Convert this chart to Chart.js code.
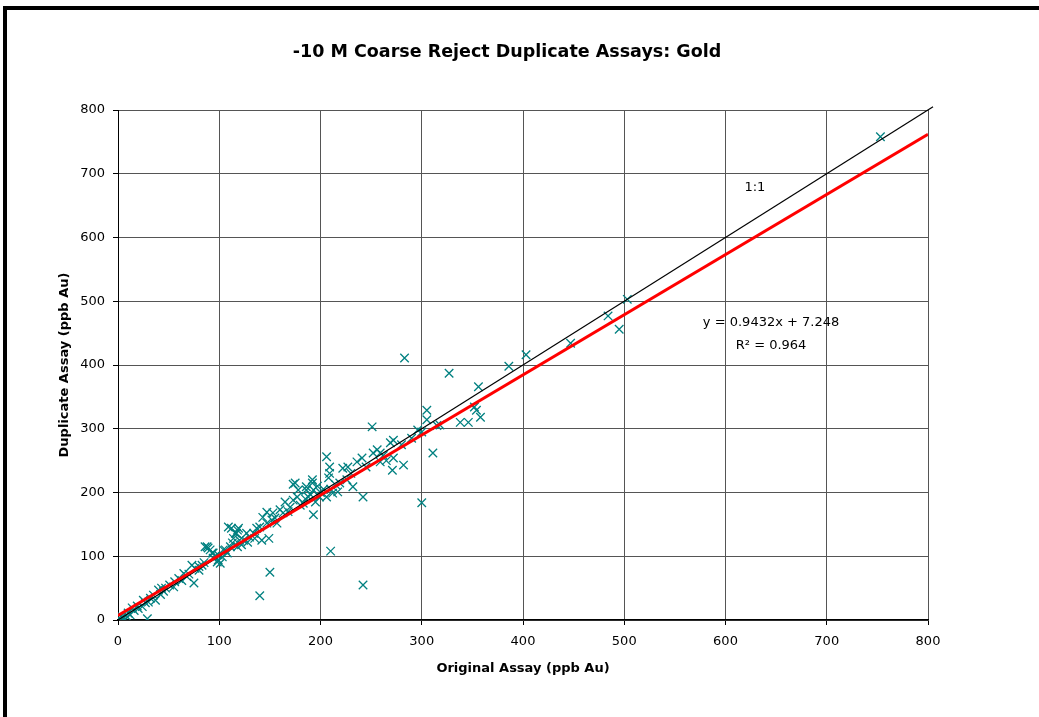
<!DOCTYPE html>
<html>
<head>
<meta charset="utf-8">
<script src="https://cdn.jsdelivr.net/npm/chart.js@4/dist/chart.umd.min.js"></script>
<style>
	html, body { margin: 0; padding: 0; background: #fff; }
	#wrap { position: relative; width: 1039px; height: 717px; overflow: hidden; }
	#gold-chart { position: absolute; left: 0; top: 0; }
	#frame {
		position: absolute; left: 3px; top: 6px; width: 1040px; height: 720px;
		border-top: 4px solid #000; border-left: 4px solid #000; pointer-events: none;
	}
</style>
</head>
<body>
<div id="wrap">
	<canvas id="gold-chart" width="1014" height="717"></canvas>
	<div id="frame"></div>
</div>
<script>
// Original vs duplicate assays (ppb Au)
const originalAssay = [
	753, 503, 484, 495, 447, 403, 386, 283, 327, 356, 352, 354, 358, 346, 338, 305, 305, 318, 296, 311,
	300, 251, 272, 269, 256, 252, 259, 272, 282, 271, 259, 241, 236, 227, 222, 209, 206, 209, 208, 232,
	242, 217, 173, 192, 186, 242, 210, 150, 140, 29,
	212, 206, 199, 192, 193, 186, 188, 178, 175, 177, 193, 183, 173, 170, 163, 160, 153, 147, 143, 152,
	157, 147, 140, 137, 134, 149, 142, 127, 119, 112, 117, 114, 124, 111, 104, 99, 91, 88, 94, 101,
	219, 226,
	1, 4, 9, 10, 14, 19, 24, 27, 25, 32, 35, 37, 40, 43, 47, 51, 56, 60, 65, 68,
	73, 75, 76, 80, 83, 86, 89, 93, 94, 98, 99, 103, 106, 109, 113, 116, 118, 120, 118,
	2, 5, 7, 12, 165, 168, 180, 185, 190, 195, 197, 200, 203, 155, 130, 135, 122, 128, 108, 96,
	85, 80, 70, 63, 55, 45, 42, 30, 20, 16, 265, 262, 245, 230, 215, 210, 290, 300, 315, 280
];
const duplicateAssay = [
	758, 503, 477, 456, 434, 416, 398, 411, 387, 366, 334, 329, 318, 310, 310, 329, 314, 306, 298, 262,
	184, 303, 282, 278, 267, 262, 262, 254, 243, 235, 248, 254, 248, 240, 238, 240, 256, 230, 223, 209,
	193, 201, 213, 220, 209, 55, 108, 75, 38, 2,
	199, 193, 193, 215, 204, 204, 193, 204, 215, 193, 165, 183, 188, 177, 168, 173, 168, 169, 161, 157,
	152, 152, 146, 144, 136, 128, 125, 136, 144, 144, 136, 128, 125, 115, 110, 102, 110, 115, 105, 89,
	215, 220,
	3, 5, 5, 11, 19, 22, 21, 27, 31, 34, 39, 31, 47, 50, 50, 55, 60, 65, 73, 68,
	86, 58, 81, 84, 86, 115, 113, 105, 97, 91, 94, 99, 110, 146, 121, 136, 141, 125, 115,
	0, 2, 1, 8, 185, 170, 180, 190, 197, 185, 210, 200, 205, 160, 130, 128, 118, 122, 105, 100,
	90, 78, 72, 62, 52, 45, 40, 28, 18, 15, 250, 258, 240, 230, 212, 205, 285, 295, 305, 275
];

// Linear fit shown on the chart
const fitSlope = 0.9432;
const fitIntercept = 7.248;
const fitRange = [0, 800];
const oneToOneRange = [0, 805];

const axisTicks = [0, 100, 200, 300, 400, 500, 600, 700, 800];

const chartTitle = '-10 M Coarse Reject Duplicate Assays: Gold';
const xTitle = 'Original Assay (ppb Au)';
const yTitle = 'Duplicate Assay (ppb Au)';
const fitLabel = ['y = 0.9432x + 7.248', 'R\u00b2 = 0.964'];
const fitLabelAt = [[645, 466], [645, 431]];
const oneToOneLabel = '1:1';
const oneToOneLabelAt = [629, 679];

const FONT = '"DejaVu Sans", sans-serif';

const points = originalAssay.map((x, i) => ({ x, y: duplicateAssay[i] }));
const fitLine = fitRange.map((x) => ({ x, y: fitSlope * x + fitIntercept }));
const oneToOne = oneToOneRange.map((x) => ({ x, y: x }));

const labelPlugin = {
	id: 'fitLabels',
	afterDatasetsDraw(chart) {
		const { ctx, scales } = chart;
		ctx.save();
		ctx.fillStyle = '#000';
		ctx.font = `13px ${FONT}`;
		ctx.textAlign = 'center';
		ctx.textBaseline = 'middle';
		fitLabel.forEach((text, i) => {
			const [vx, vy] = fitLabelAt[i];
			ctx.fillText(text, scales.x.getPixelForValue(vx), scales.y.getPixelForValue(vy));
		});
		ctx.fillText(oneToOneLabel, scales.x.getPixelForValue(oneToOneLabelAt[0]), scales.y.getPixelForValue(oneToOneLabelAt[1]));
		ctx.restore();
	},
};

new Chart(document.getElementById('gold-chart'), {
	type: 'scatter',
	data: {
		datasets: [
			{
				label: 'Duplicates',
				data: points,
				pointStyle: 'crossRot',
				pointRadius: 6,
				borderColor: '#008080',
				backgroundColor: '#008080',
				borderWidth: 1.3,
				order: 3,
			},
			{
				label: '1:1',
				data: oneToOne,
				showLine: true,
				pointRadius: 0,
				borderColor: '#000',
				borderWidth: 1.2,
				clip: false,
				order: 2,
			},
			{
				label: 'Fit',
				data: fitLine,
				showLine: true,
				pointRadius: 0,
				borderColor: '#ff0000',
				borderWidth: 3,
				order: 1,
			},
		],
	},
	options: {
		responsive: false,
		animation: false,
		layout: { padding: 0 },
		plugins: {
			legend: { display: false },
			tooltip: { enabled: false },
			title: {
				display: true,
				text: chartTitle,
				color: '#000',
				font: { family: FONT, size: 17.5, weight: 'bold' },
				padding: { top: 42, bottom: 47 },
			},
		},
		scales: {
			x: {
				type: 'linear',
				min: 0,
				max: 800,
				afterBuildTicks(scale) {
					scale.ticks = axisTicks.map((value) => ({ value }));
				},
				grid: { color: '#555', lineWidth: 1, tickLength: 5, tickColor: '#000' },
				border: { color: '#000', width: 1.5 },
				ticks: { color: '#000', padding: 9, font: { family: FONT, size: 13 } },
				title: {
					display: true,
					text: xTitle,
					color: '#000',
					font: { family: FONT, size: 13, weight: 'bold' },
					padding: { top: 8, bottom: 41 },
				},
				afterFit(scale) {
					scale.height = 97;
				},
			},
			y: {
				type: 'linear',
				min: 0,
				max: 800,
				afterBuildTicks(scale) {
					scale.ticks = axisTicks.map((value) => ({ value }));
				},
				grid: { color: '#555', lineWidth: 1, tickLength: 5, tickColor: '#000' },
				border: { color: '#000', width: 1 },
				ticks: { color: '#000', padding: 8, font: { family: FONT, size: 13 } },
				title: {
					display: true,
					text: yTitle,
					color: '#000',
					font: { family: FONT, size: 13, weight: 'bold' },
					padding: { top: 57, bottom: 0 },
				},
				afterFit(scale) {
					scale.width = 118;
				},
			},
			yR: {
				type: 'linear',
				position: 'right',
				min: 0,
				max: 800,
				grid: { display: false, drawTicks: false },
				border: { display: false },
				ticks: { display: false },
				afterFit(scale) {
					scale.width = 86;
				},
			},
		},
	},
	plugins: [labelPlugin],
});
</script>
</body>
</html>
